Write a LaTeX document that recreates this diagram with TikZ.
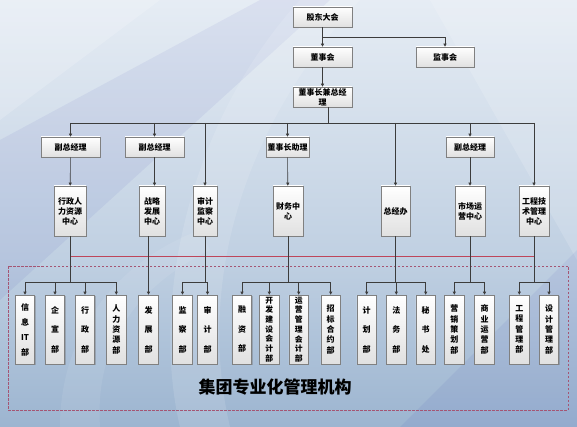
\documentclass[tikz,border=0pt]{standalone}
\usepackage{fontspec}
\setmainfont{Noto Sans CJK SC}
\usetikzlibrary{arrows.meta,shadows}
\definecolor{bgtop}{RGB}{236,241,247}
\definecolor{bgmid}{RGB}{192,208,226}
\definecolor{bgbot}{RGB}{112,147,186}
\definecolor{lnc}{RGB}{60,60,60}
\definecolor{boxline}{RGB}{128,128,128}
\definecolor{redl}{RGB}{190,70,90}
\definecolor{dashc}{RGB}{165,85,115}
\pgfdeclareverticalshading{bgsh}{100bp}{color(0bp)=(bgbot); color(45bp)=(bgmid); color(80bp)=(bgtop); color(100bp)=(bgtop)}
\tikzset{
  bx/.style={draw=boxline, line width=0.6pt, top color=white, bottom color=black!12,
    inner sep=0pt, align=center, font=\bfseries\fontsize{8}{10}\selectfont,
    drop shadow={shadow xshift=1pt, shadow yshift=-1pt, opacity=0.35, fill=black!60}},
  hb/.style={bx, minimum height=20pt},
  tb/.style={bx, minimum height=50pt},
  db/.style={bx, minimum height=69pt, minimum width=19.5pt},
  vA/.style={font=\bfseries\fontsize{8}{19.5}\selectfont},
  vB/.style={font=\bfseries\fontsize{8}{15}\selectfont},
  vC/.style={font=\bfseries\fontsize{8}{10.3}\selectfont},
  vD/.style={font=\bfseries\fontsize{7.8}{9.7}\selectfont},
  ln/.style={draw=lnc, line width=0.6pt},
  ar/.style={ln, -{Triangle[length=3pt,width=3pt]}},
}
\begin{document}
\begin{tikzpicture}[x=1pt,y=-1pt]
\useasboundingbox (0,0) rectangle (577,427);
\shade[shading=bgsh] (0,0) rectangle (577,427);
% background swooshes
\fill[white,opacity=0.18] (0,0) -- (160,0) -- (0,120) -- cycle;
\fill[black!40!blue,opacity=0.05] (0,140) -- (260,0) -- (330,0) -- (0,300) -- cycle;
\fill[white,opacity=0.12] (180,427) .. controls (150,300) and (190,120) .. (300,0) -- (360,0) .. controls (230,140) and (200,300) .. (230,427) -- cycle;
\fill[white,opacity=0.15] (430,0) -- (577,0) -- (577,260) -- cycle;
\fill[white,opacity=0.08] (60,427) .. controls (60,330) and (120,260) .. (200,230) -- (210,250) .. controls (130,290) and (95,350) .. (100,427) -- cycle;
\fill[black!40!blue,opacity=0.05] (400,427) -- (577,250) -- (577,427) -- cycle;

% top
\node[hb, minimum width=59pt] (gd) at (322.5,17) {股东大会};
\node[hb, minimum width=59pt] (dsh) at (322.5,57) {董事会};
\node[hb, minimum width=58pt] (jsh) at (445,57) {监事会};
\node[hb, minimum width=59pt] (dz) at (322.5,97) {董事长兼总经\\理};
\coordinate (j1) at (445,37);
\draw[ar] (gd) -- (dsh);
\draw[ar] (gd.south) |- (j1) -- (jsh.north);
\draw[ar] (dsh) -- (dz);

% bus level 1
\coordinate (b0) at (328,123);
\coordinate (bL) at (70.5,123);
\coordinate (bR) at (534,123);
\draw[ln] (dz.south -| b0) -- (b0);
\draw[ln] (bL) -- (bR);

% row 2
\node[hb, minimum width=59pt] (f1) at (70.5,147) {副总经理};
\node[hb, minimum width=59pt] (f2) at (154.5,147) {副总经理};
\node[hb, minimum width=43pt] (zl) at (287.5,147) {董事长助理};
\node[hb, minimum width=48pt] (f3) at (470,147) {副总经理};

% row 3
\node[tb, minimum width=32pt] (r1) at (70,211) {行政人\\力资源\\中心};
\node[tb, minimum width=26pt] (r2) at (152,211) {战略\\发展\\中心};
\node[tb, minimum width=24pt] (r3) at (205,211) {审计\\监察\\中心};
\node[tb, minimum width=30pt] (r4) at (288,211) {财务中\\心};
\node[tb, minimum width=29pt] (r5) at (395.5,211) {总经办};
\node[tb, minimum width=30pt] (r6) at (470,211) {市场运\\营中心};
\node[tb, minimum width=30pt] (r7) at (534,211) {工程技\\术管理\\中心};

\draw[ar] (bL) -- (f1.north);
\draw[ar] (f2.north |- bL) -- (f2.north);
\draw[ar] (r3.north |- bL) -- (r3.north);
\draw[ar] (zl.north |- bL) -- (zl.north);
\draw[ar] (r5.north |- bL) -- (r5.north);
\draw[ar] (f3.north |- bL) -- (f3.north);
\draw[ar] (bR) -- (r7.north);
\draw[ar] (f1) -- (r1);
\draw[ar] (f2.south) -- (f2.south |- r2.north);
\draw[ar] (zl) -- (r4);
\draw[ar] (f3) -- (r6);

% red line and dashed group
\coordinate (redy) at (0,256);
\draw[draw=redl, line width=0.7pt] (r1.south |- redy) -- (r7.south |- redy);
\draw[draw=dashc, line width=0.7pt, dash pattern=on 2.5pt off 1.5pt] (8,266) rectangle (568,410);
\node[font=\bfseries\fontsize{17}{20}\selectfont] (title) at (275,387) {集团专业化管理机构};

% row 4
\node[db, vB] (d1) at (25,329.5) {信\\息\\IT\\部};
\node[db, vA] (d2) at (55,329.5) {企\\宣\\部};
\node[db, vA] (d3) at (85,329.5) {行\\政\\部};
\node[db, vC] (d4) at (116.3,329.5) {人\\力\\资\\源\\部};
\node[db, vA] (d5) at (148.5,329.5) {发\\展\\部};
\node[db, vA] (d6) at (182.5,329.5) {监\\察\\部};
\node[db, vA] (d7) at (207.5,329.5) {审\\计\\部};
\node[db, vA] (d8) at (242,329.5) {融\\资\\部};
\node[db, vD] (d9) at (269.3,329.5) {开\\发\\建\\设\\会\\计\\部};
\node[db, vD] (d10) at (298.7,329.5) {运\\营\\管\\理\\会\\计\\部};
\node[db, vC] (d11) at (330.7,329.5) {招\\标\\合\\约\\部};
\node[db, vA] (d12) at (366.7,329.5) {计\\划\\部};
\node[db, vA] (d13) at (396.3,329.5) {法\\务\\部};
\node[db, vA] (d14) at (425.7,329.5) {秘\\书\\处};
\node[db, vC] (d15) at (454.3,329.5) {营\\销\\策\\划\\部};
\node[db, vC] (d16) at (484.5,329.5) {商\\业\\运\\营\\部};
\node[db, vC] (d17) at (519.3,329.5) {工\\程\\管\\理\\部};
\node[db, vC] (d18) at (549,329.5) {设\\计\\管\\理\\部};

\coordinate (b4) at (0,282);
% group 1
\draw[ln] (r1.south) -- (r1.south |- b4);
\draw[ln] (d1.north |- b4) -- (d4.north |- b4);
\foreach \n in {d1,d2,d3,d4} \draw[ar] (\n.north |- b4) -- (\n.north);
% group 2
\draw[ar] (r2.south -| d5.north) -- (d5.north);
% group 3
\draw[ln] (r3.south) -- (r3.south |- b4);
\draw[ln] (d6.north |- b4) -- (d7.north |- b4);
\foreach \n in {d6,d7} \draw[ar] (\n.north |- b4) -- (\n.north);
% group 4
\draw[ln] (r4.south) -- (r4.south |- b4);
\draw[ln] (d8.north |- b4) -- (d11.north |- b4);
\foreach \n in {d8,d9,d10,d11} \draw[ar] (\n.north |- b4) -- (\n.north);
% group 5
\draw[ln] (r5.south) -- (r5.south |- b4);
\draw[ln] (d12.north |- b4) -- (d14.north |- b4);
\foreach \n in {d12,d13,d14} \draw[ar] (\n.north |- b4) -- (\n.north);
% group 6
\draw[ln] (r6.south) -- (r6.south |- b4);
\draw[ln] (d15.north |- b4) -- (d16.north |- b4);
\foreach \n in {d15,d16} \draw[ar] (\n.north |- b4) -- (\n.north);
% group 7
\draw[ln] (r7.south) -- (r7.south |- b4);
\draw[ln] (d17.north |- b4) -- (d18.north |- b4);
\foreach \n in {d17,d18} \draw[ar] (\n.north |- b4) -- (\n.north);
\end{tikzpicture}
\end{document}
